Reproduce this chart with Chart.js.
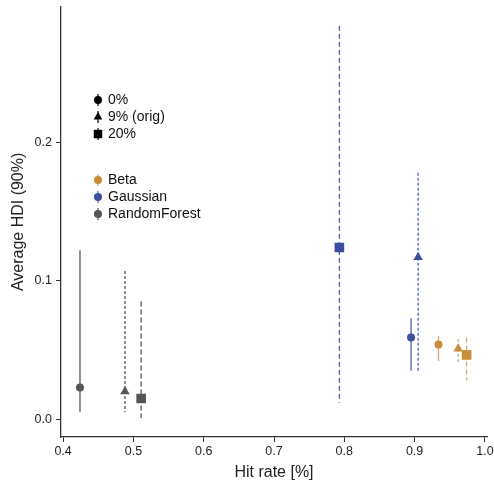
<!DOCTYPE html>
<html>
<head>
<meta charset="utf-8">
<script src="https://cdn.jsdelivr.net/npm/chart.js@4"></script>
<style>
  html, body { margin: 0; padding: 0; background: #fff; }
  #wrap { width: 494px; height: 483px; }
</style>
</head>
<body>
<div id="wrap"><canvas id="hdiChart"></canvas></div>
<script>
// models and noise levels (rows: Beta, Gaussian, RandomForest; cols: 0%, 9%, 20%)
const models = ['Beta', 'Gaussian', 'RandomForest'];
const noiseLevels = ['0%', '9% (orig)', '20%'];
const hitRate = [
  [0.934, 0.962, 0.974],
  [0.895, 0.905, 0.793],
  [0.424, 0.488, 0.511]
];
const hdiMean = [
  [0.054, 0.051, 0.0465],
  [0.059, 0.117, 0.124],
  [0.023, 0.020, 0.015]
];
const hdiLow = [
  [0.042, 0.040, 0.028],
  [0.035, 0.035, 0.012],
  [0.0055, 0.005, 0.001]
];
const hdiHigh = [
  [0.060, 0.058, 0.059],
  [0.073, 0.178, 0.284],
  [0.122, 0.107, 0.085]
];
const xTicks = [0.4, 0.5, 0.6, 0.7, 0.8, 0.9, 1.0];
const yTicks = [0.0, 0.1, 0.2];

const modelColors = ['#c98d3c', '#3c4f9c', '#555555'];
const barColors = ['rgba(201,141,60,0.75)', '#4a62bd', '#555555'];
const shapes = ['circle', 'triangle', 'rect'];
const shapeSizes = [4, 5.5, 6.8];
const dashes = [[], [3, 2], [5, 3]];

const datasets = [];
models.forEach((m, i) => {
  noiseLevels.forEach((n, j) => {
    datasets.push({
      label: m + ' ' + n,
      data: [{ x: hitRate[i][j], y: hdiMean[i][j], lo: hdiLow[i][j], hi: hdiHigh[i][j] }],
      pointStyle: shapes[j],
      pointRadius: shapeSizes[j],
      backgroundColor: modelColors[i],
      borderColor: modelColors[i],
      borderWidth: 0,
      errColor: barColors[i],
      errDash: dashes[j]
    });
  });
});

const errorBars = {
  id: 'errorBars',
  beforeDatasetsDraw(chart) {
    const { ctx, scales: { x, y } } = chart;
    ctx.save();
    chart.data.datasets.forEach(ds => {
      ds.data.forEach(p => {
        const px = x.getPixelForValue(p.x);
        ctx.strokeStyle = ds.errColor;
        ctx.lineWidth = 1.3;
        ctx.setLineDash(ds.errDash);
        ctx.beginPath();
        ctx.moveTo(px, y.getPixelForValue(p.hi));
        ctx.lineTo(px, y.getPixelForValue(p.lo));
        ctx.stroke();
      });
    });
    ctx.restore();
  }
};

const legendBox = {
  id: 'legendBox',
  afterDraw(chart) {
    const ctx = chart.ctx;
    ctx.save();
    ctx.font = '14px "Liberation Sans", Arial, sans-serif';
    ctx.textBaseline = 'middle';
    ctx.textAlign = 'left';
    const sx = 98, tx = 108;
    const drawSym = (shape, color, cy) => {
      ctx.strokeStyle = color;
      ctx.lineWidth = 1.2;
      ctx.setLineDash([]);
      ctx.beginPath();
      ctx.moveTo(sx, cy - 6);
      ctx.lineTo(sx, cy + 6);
      ctx.stroke();
      const r = shape === 'circle' ? 4 : shape === 'rect' ? 6 : 5;
      Chart.helpers.drawPoint(ctx, { pointStyle: shape, radius: r, rotation: 0, borderWidth: 0 }, sx, cy);
    };
    noiseLevels.forEach((n, j) => {
      const cy = 100 + j * 17;
      ctx.fillStyle = '#000';
      drawSym(shapes[j], '#000', cy);
      ctx.fillStyle = '#111';
      ctx.fillText(n, tx, cy);
    });
    models.forEach((m, i) => {
      const cy = 180 + i * 17;
      ctx.fillStyle = modelColors[i];
      drawSym('circle', barColors[i], cy);
      ctx.fillStyle = '#111';
      ctx.fillText(m, tx, cy);
    });
    ctx.restore();
  }
};

const font = { family: '"Liberation Sans", Arial, sans-serif', size: 12.5 };

new Chart(document.getElementById('hdiChart'), {
  type: 'scatter',
  data: { datasets: datasets },
  options: {
    responsive: true,
    maintainAspectRatio: false,
    animation: false,
    layout: { padding: { top: 6, right: 7, left: 0, bottom: 0 } },
    plugins: { legend: { display: false }, tooltip: { enabled: false } },
    scales: {
      x: {
        type: 'linear',
        min: 0.397,
        max: 1.003,
        afterBuildTicks: s => { s.ticks = xTicks.map(v => ({ value: v })); },
        afterFit: s => { s.height = 46; s.paddingLeft = 0; s.paddingRight = 0; },
        border: { color: '#333', width: 1.3 },
        grid: { drawOnChartArea: false, drawTicks: true, tickLength: 5, color: '#333' },
        ticks: { color: '#222', font: font, padding: 2, maxRotation: 0, callback: v => v.toFixed(1) },
        title: { display: true, text: 'Hit rate [%]', color: '#222', font: { family: font.family, size: 16 }, padding: { top: 0, bottom: 1 } }
      },
      y: {
        type: 'linear',
        min: -0.0128,
        max: 0.2978,
        afterBuildTicks: s => { s.ticks = yTicks.map(v => ({ value: v })); },
        afterFit: s => { s.width = 61; s.paddingTop = 0; s.paddingBottom = 0; },
        border: { color: '#333', width: 1.3 },
        grid: { drawOnChartArea: false, drawTicks: true, tickLength: 5, color: '#333' },
        ticks: { color: '#222', font: font, padding: 4, callback: v => v.toFixed(1) },
        title: { display: true, text: 'Average HDI (90%)', color: '#222', font: { family: font.family, size: 16 }, padding: { top: 9, bottom: 0 } }
      }
    }
  },
  plugins: [errorBars, legendBox]
});
</script>
</body>
</html>
